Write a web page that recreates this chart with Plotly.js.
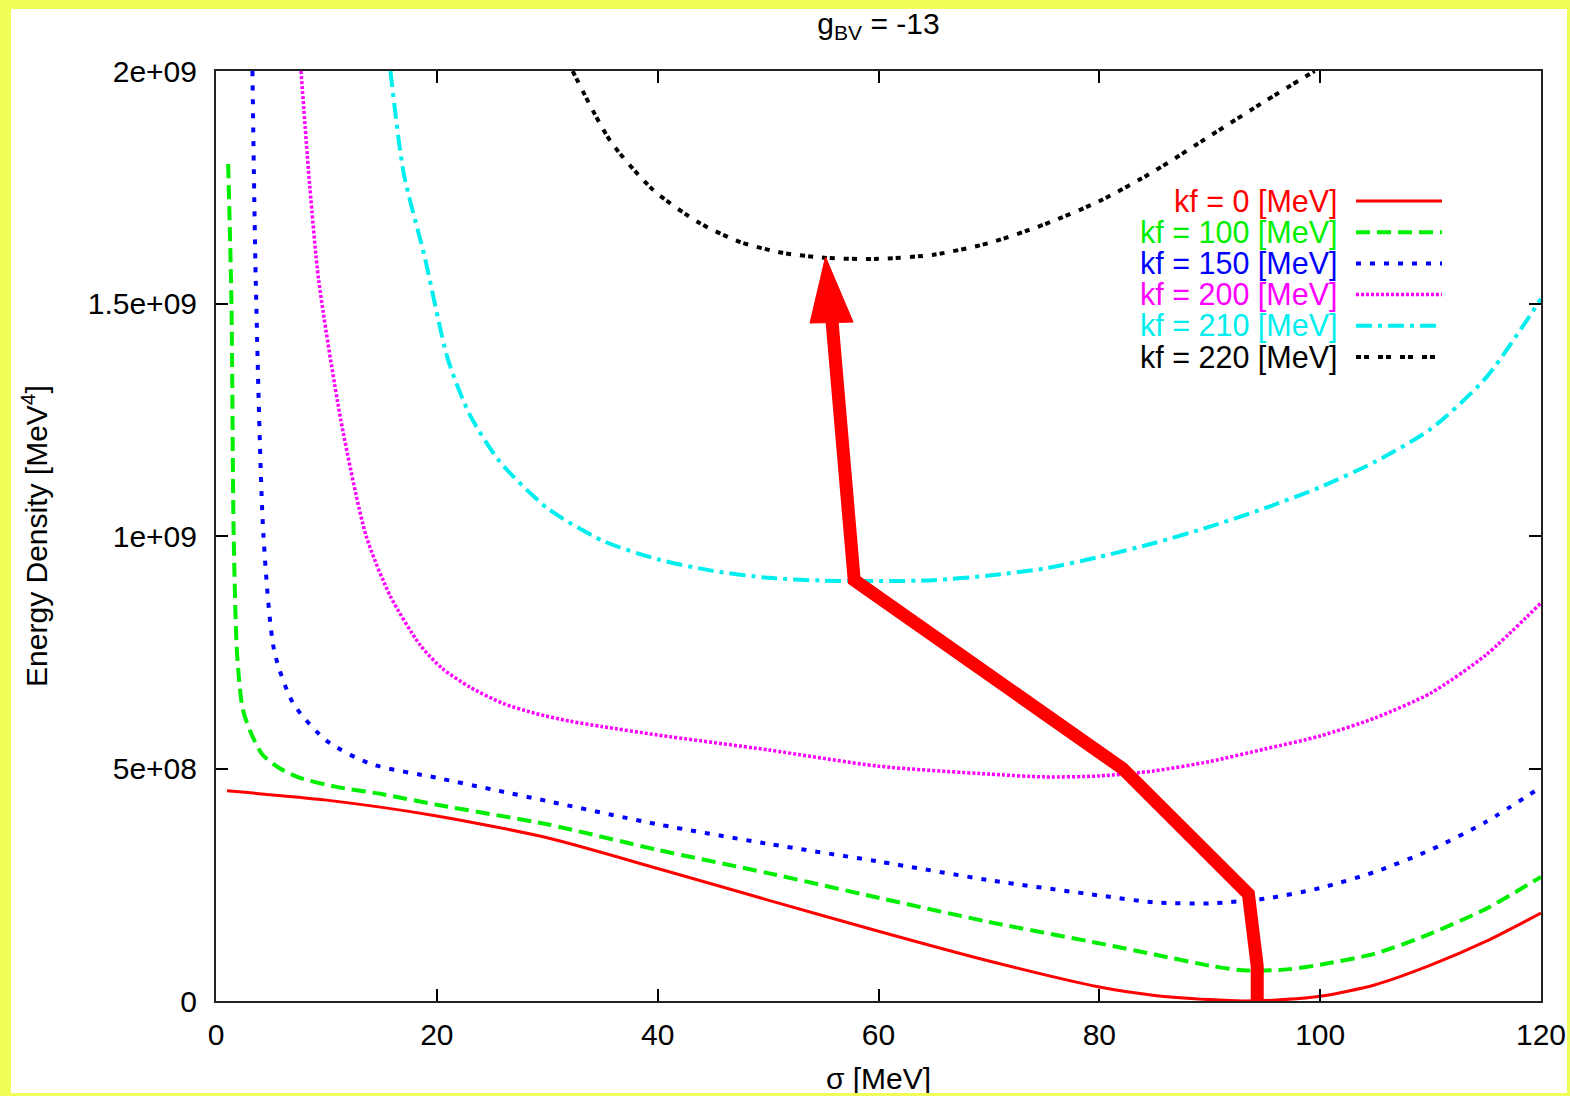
<!DOCTYPE html>
<html>
<head>
<meta charset="utf-8">
<script src="https://cdn.plot.ly/plotly-3.0.1.min.js"></script>
<style>
html, body { margin: 0; padding: 0; background: #ffffff; width: 1570px; height: 1096px; overflow: hidden; }
#chart { position: absolute; left: 0; top: 0; width: 1570px; height: 1096px; }
#frame { position: absolute; left: 0; top: 0; width: 1570px; height: 1096px; box-sizing: border-box;
         border-style: solid; border-color: #efff58; border-width: 9px 3px 3px 11px; pointer-events: none; }
</style>
</head>
<body>
<div id="chart"></div>
<div id="frame"></div>
<script>
// ---- data (sigma in MeV, energy density in MeV^4) ----
const legendLabels = ["kf = 0 [MeV]", "kf = 100 [MeV]", "kf = 150 [MeV]", "kf = 200 [MeV]", "kf = 210 [MeV]", "kf = 220 [MeV]"];

const sigma0  = [1, 10, 20, 30, 40, 50, 60, 70, 80, 85, 90, 93, 96, 100, 105, 110, 115, 120];
const energy0 = [4.52e8, 4.32e8, 3.98e8, 3.51e8, 2.85e8, 2.17e8, 1.50e8, 0.86e8, 0.30e8, 0.12e8, 0.03e8, 0.0, 0.02e8, 0.10e8, 0.35e8, 0.77e8, 1.28e8, 1.89e8];

const sigma100  = [1.1, 1.4, 1.6, 1.9, 2.4, 3.1, 4.2, 5.8, 7.6, 11, 15, 20, 30, 40, 50, 60, 70, 80, 85, 90, 93, 97, 100, 105, 110, 115, 120];
const energy100 = [18.0e8, 15.0e8, 10.0e8, 7.5e8, 6.3e8, 5.8e8, 5.3e8, 5.0e8, 4.8e8, 4.6e8, 4.45e8, 4.22e8, 3.8e8, 3.25e8, 2.75e8, 2.22e8, 1.70e8, 1.24e8, 1.0e8, 0.76e8, 0.66e8, 0.68e8, 0.78e8, 1.02e8, 1.45e8, 1.98e8, 2.67e8];

const sigma150  = [3.3, 3.6, 4.3, 5.3, 7.0, 10, 14, 20, 25, 30, 40, 50, 60, 70, 80, 85, 90, 95, 100, 105, 110, 115, 120];
const energy150 = [20.0e8, 15.5e8, 10.0e8, 7.5e8, 6.4e8, 5.6e8, 5.1e8, 4.8e8, 4.55e8, 4.3e8, 3.8e8, 3.38e8, 3.0e8, 2.6e8, 2.27e8, 2.12e8, 2.1e8, 2.2e8, 2.43e8, 2.78e8, 3.25e8, 3.85e8, 4.6e8];

const sigma200  = [7.7, 8.5, 9.3, 11.3, 13.6, 15.8, 18.5, 20.5, 23, 26, 29, 32, 35, 40, 50, 60, 70, 75, 80, 85, 90, 95, 100, 105, 110, 115, 120];
const energy200 = [20.0e8, 17.5e8, 15.5e8, 12.5e8, 10.0e8, 8.7e8, 7.65e8, 7.15e8, 6.75e8, 6.4e8, 6.18e8, 6.02e8, 5.9e8, 5.72e8, 5.4e8, 5.05e8, 4.88e8, 4.82e8, 4.84e8, 4.95e8, 5.15e8, 5.42e8, 5.7e8, 6.09e8, 6.62e8, 7.44e8, 8.56e8];

const sigma210  = [15.8, 17, 18.9, 21, 23, 25.7, 30, 35, 40, 45, 50, 55, 60, 65, 70, 75, 80, 85, 90, 95, 100, 105, 110, 115, 120];
const energy210 = [20.0e8, 17.8e8, 16.0e8, 13.8e8, 12.6e8, 11.6e8, 10.6e8, 9.9e8, 9.5e8, 9.25e8, 9.1e8, 9.04e8, 9.03e8, 9.05e8, 9.15e8, 9.3e8, 9.55e8, 9.85e8, 10.2e8, 10.6e8, 11.05e8, 11.6e8, 12.3e8, 13.4e8, 15.1e8];

const sigma220  = [32.3, 35.7, 39.6, 43.8, 47.5, 51.3, 55.3, 60, 65, 70, 75, 80, 85, 90, 95, 99.5];
const energy220 = [20.0e8, 18.5e8, 17.44e8, 16.73e8, 16.32e8, 16.09e8, 15.98e8, 15.96e8, 16.05e8, 16.3e8, 16.7e8, 17.2e8, 17.85e8, 18.6e8, 19.35e8, 20.0e8];

// red arrow path (annotation drawn in data coordinates)
const arrowSigma  = [94.3, 94.3, 93.5, 82.1, 57.8, 55.8];
const arrowEnergy = [0, 0.75e8, 2.3e8, 5.0e8, 9.05e8, 14.6e8];
const headSigma   = [53.8, 55.2, 57.7, 53.8];
const headEnergy  = [14.58e8, 16.0e8, 14.6e8, 14.58e8];

const xTickVals = [0, 20, 40, 60, 80, 100, 120];
const xTickText = ["0", "20", "40", "60", "80", "100", "120"];
const yTickVals = [0, 5e8, 1e9, 1.5e9, 2e9];
const yTickText = ["0", "5e+08", "1e+09", "1.5e+09", "2e+09"];

// ---- styles ----
const colors = ["#ff0000", "#00ee00", "#0000ff", "#ff00ff", "#00eeee", "#000000"];
const dashes = ["solid", "14px,7px", "5px,9px", "3px,2px", "16px,6px,4px,6px", "5px,3px,5px,9px"];
const widths = [3, 4, 4, 3.5, 4, 4];
const xs = [sigma0, sigma100, sigma150, sigma200, sigma210, sigma220];
const ys = [energy0, energy100, energy150, energy200, energy210, energy220];

const traces = xs.map((x, i) => ({
  x: x, y: ys[i], type: "scatter", mode: "lines", name: legendLabels[i],
  line: { color: colors[i], width: widths[i], dash: dashes[i], shape: "spline", smoothing: 0.7 },
  cliponaxis: true, showlegend: false, hoverinfo: "skip"
}));

traces.push({
  x: arrowSigma, y: arrowEnergy, type: "scatter", mode: "lines",
  line: { color: "#ff0000", width: 13 }, showlegend: false, hoverinfo: "skip"
});
traces.push({
  x: headSigma, y: headEnergy, type: "scatter", mode: "lines", fill: "toself",
  fillcolor: "#ff0000", line: { color: "#ff0000", width: 1 }, showlegend: false, hoverinfo: "skip"
});

// legend built from annotations + shapes (gnuplot style: text then sample)
const W = 1570, H = 1096;
const plotL = 216, plotT = 71, plotR = 1541, plotB = 1001;
const pw = plotR - plotL, ph = plotB - plotT;
const px2x = p => (p - plotL) / pw;
const py2y = p => (plotB - p) / ph;
const annotations = [];
const shapes = [];
legendLabels.forEach((lab, i) => {
  const py = 201 + i * 31.2;
  annotations.push({
    xref: "paper", yref: "paper", x: px2x(1340), y: py2y(py), xanchor: "right", yanchor: "middle",
    text: lab, showarrow: false, font: { family: "Liberation Sans, Arial, sans-serif", size: 30.5, color: colors[i] }
  });
  shapes.push({
    type: "line", xref: "paper", yref: "paper", x0: px2x(1356), x1: px2x(1442), y0: py2y(py), y1: py2y(py),
    line: { color: colors[i], width: widths[i], dash: dashes[i] }
  });
});

const font = { family: "Liberation Sans, Arial, sans-serif", size: 30, color: "#000000" };

const layout = {
  width: W, height: H,
  margin: { l: plotL, r: W - plotR, t: plotT, b: H - plotB },
  paper_bgcolor: "#ffffff", plot_bgcolor: "#ffffff",
  font: font,
  title: { text: "g<sub>BV</sub> = -13", x: 0.5, xref: "paper", xanchor: "center",
           y: 1 - 23 / H, yref: "container", yanchor: "middle", font: font },
  xaxis: {
    range: [0, 120], tickvals: xTickVals, ticktext: xTickText,
    ticks: "inside", ticklen: 12, tickwidth: 2, tickcolor: "#000",
    showline: true, linecolor: "#222", linewidth: 2, mirror: "allticks",
    showgrid: false, zeroline: false, tickfont: font, ticklabelstandoff: 6,
    title: { text: "σ [MeV]", font: font, standoff: 18 }
  },
  yaxis: {
    range: [0, 2e9], tickvals: yTickVals, ticktext: yTickText,
    ticks: "inside", ticklen: 12, tickwidth: 2, tickcolor: "#000",
    showline: true, linecolor: "#222", linewidth: 2, mirror: "allticks",
    showgrid: false, zeroline: false, tickfont: font, ticklabelstandoff: 11,
    title: { text: "Energy Density [MeV<sup>4</sup>]", font: font, standoff: 31 }
  },
  annotations: annotations,
  shapes: shapes
};

Plotly.newPlot("chart", traces, layout, { displayModeBar: false, staticPlot: true });
</script>
</body>
</html>
